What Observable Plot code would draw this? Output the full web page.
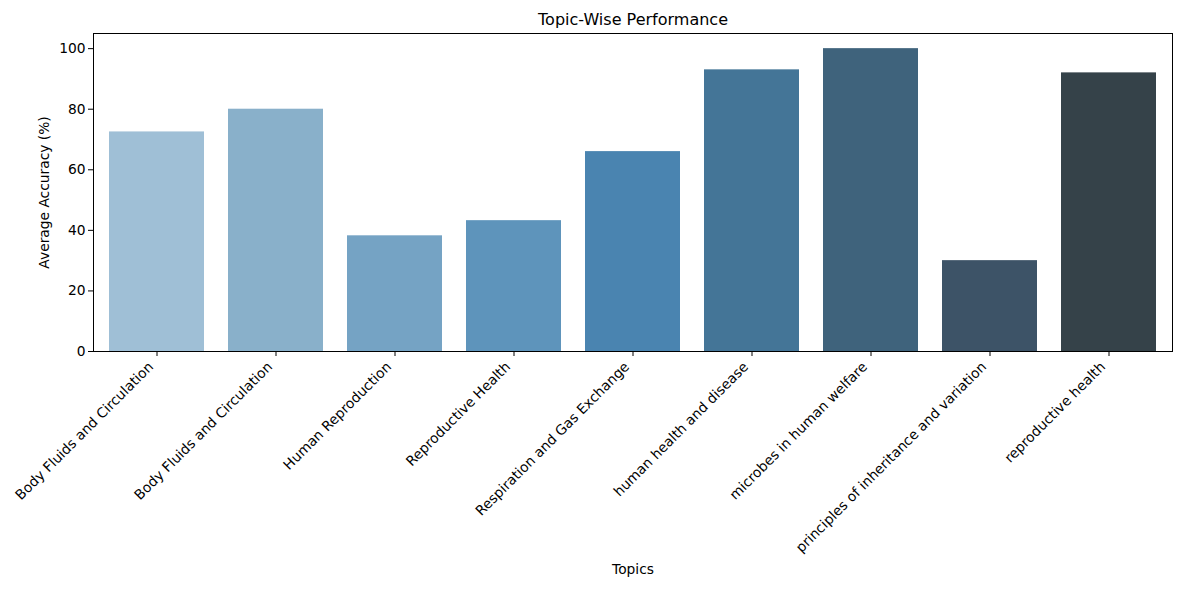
<!DOCTYPE html>
<html>
<head>
<meta charset="utf-8">
<script src="https://cdn.jsdelivr.net/npm/d3@7"></script>
<script src="https://cdn.jsdelivr.net/npm/@observablehq/plot@0.6"></script>
<style>
  body { margin: 0; background: white; }
  #chart svg { display: block; }
</style>
</head>
<body>
<div id="chart"></div>
<script>
// topic names (the second one really is a repeat in the source chart)
const topics = [
    "Body Fluids and Circulation",
    "Body Fluids and Circulation",
    "Human Reproduction",
    "Reproductive Health",
    "Respiration and Gas Exchange",
    "human health and disease",
    "microbes in human welfare",
    "principles of inheritance and variation",
    "reproductive health"
];
const accuracy = [72.5, 80, 38.2, 43.2, 66, 93, 100, 30, 92];
const yTicks = [0, 20, 40, 60, 80, 100];
// seaborn Blues_d, light to dark
const palette = ["#9fbfd6", "#89b0ca", "#75a3c4", "#5e94bb", "#4a84b0", "#447597", "#3f637c", "#3d5367", "#354249"];

const rows = topics.map((t, i) => ({idx: i, topic: t, acc: accuracy[i]}));

const renderChart = () => {
    const chart = Plot.plot({
        width: 1181,
        height: 590,
        marginTop: 33,
        marginBottom: 239,
        marginLeft: 93,
        marginRight: 9,
        style: {fontFamily: '"DejaVu Sans", sans-serif', fontSize: "13px", color: "black", background: "white"},
        x: {
            type: "band",
            domain: rows.map(d => d.idx),
            paddingInner: 0.2,
            paddingOuter: 0.1,
            label: null
        },
        y: {domain: [0, 105], label: null},
        color: {type: "ordinal", domain: rows.map(d => d.idx), range: palette},
        marks: [
            Plot.barY(rows, {x: "idx", y: "acc", fill: "idx"}),
            Plot.axisY({ticks: yTicks, tickSize: 5, tickPadding: 3, fontSize: 13.8, label: null}),
            // tick marks only
            Plot.axisX({tickSize: 5, tickFormat: () => "", label: null}),
            // rotated labels, nudged so their ends sit just under the ticks like matplotlib's ha="right"
            Plot.axisX({
                tickFormat: i => topics[i],
                tickRotate: -45,
                tickSize: 0,
                tickPadding: 8,
                dx: -6,
                dy: 5,
                fontSize: 13.8,
                label: null
            }),
            Plot.frame({stroke: "black", strokeWidth: 1}),
            // title and axis labels
            Plot.text(["Topic-Wise Performance"], {frameAnchor: "top", dy: -9, lineAnchor: "bottom", fontSize: 16, text: d => d}),
            Plot.text(["Topics"], {frameAnchor: "bottom", dy: 222, fontSize: 13.8, text: d => d}),
            Plot.text(["Average Accuracy (%)"], {frameAnchor: "left", textAnchor: "middle", dx: -49, rotate: -90, fontSize: 13.8, text: d => d})
        ]
    });
    document.getElementById("chart").append(chart);
};

renderChart();
</script>
</body>
</html>
